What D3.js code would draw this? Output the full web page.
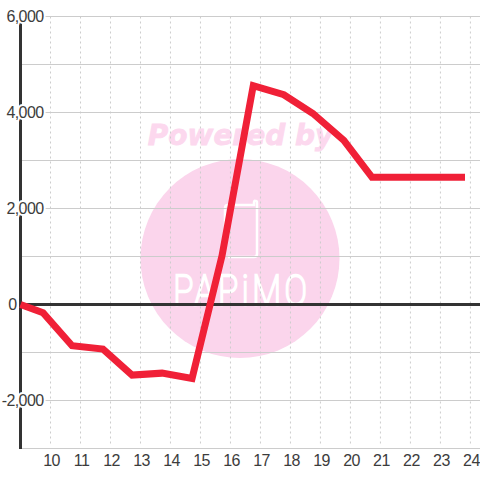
<!DOCTYPE html>
<html>
<head>
<meta charset="utf-8">
<script src="https://cdn.jsdelivr.net/npm/d3@7"></script>
<style>
html, body { margin: 0; padding: 0; background: #fff; }
svg { display: block; }
.tick-label text { font-family: "Liberation Sans", sans-serif; font-size: 16px; letter-spacing: -0.6px; fill: #3c3c3c; }
</style>
</head>
<body>
<div id="plot-area"></div>
<script>
// values
const hours = [9, 9.75, 10.72, 11.75, 12.72, 13.72, 14.72, 15.72, 16.76, 17.78, 18.75, 19.78, 20.72, 21.72, 22.72, 23.82]
const balance = [0, -170, -860, -930, -1470, -1430, -1540, 1020, 4560, 4370, 3980, 3420, 2650, 2650, 2650, 2650]

const xTicks = [10, 11, 12, 13, 14, 15, 16, 17, 18, 19, 20, 21, 22, 23, 24]
const yMajorTicks = [6000, 4000, 2000, 0, -2000]
const yMinorTicks = [5000, 3000, 1000, -1000, -3000]

const width = 480
const height = 480

const plotSVG = d3.select('#plot-area').append('svg')
    .attr('width', width)
    .attr('height', height)

const xScale = d3.scaleLinear().domain([9, 24.32]).range([20.5, 480])
const yScale = d3.scaleLinear().domain([6000, -3000]).range([16.5, 448.5])

// watermark sits under the grid
const mark = plotSVG.append('g')

mark.append('circle')
    .attr('cx', 240)
    .attr('cy', 258.5)
    .attr('r', 99.5)
    .attr('fill', '#fbd5ec')

mark.append('text')
    .attr('x', 240.5)
    .attr('y', 145)
    .attr('text-anchor', 'middle')
    .attr('font-family', 'DejaVu Sans')
    .attr('font-weight', 'bold')
    .attr('font-style', 'italic')
    .attr('font-size', 28)
    .attr('fill', '#fcd8ee')
    .attr('stroke', '#fcd8ee')
    .attr('stroke-width', 0.8)
    .text('Powered by')

mark.append('path')
    .attr('d', 'M225,240V208Q225,205 228,205H254V202Q254,200 256,201Q257,201 257,203V254Q257,257 254,257H228')
    .attr('fill', 'none')
    .attr('stroke', '#fff')
    .attr('stroke-width', 2.5)

mark.append('text')
    .attr('transform', 'translate(240, 305) scale(0.8, 1)')
    .attr('text-anchor', 'middle')
    .attr('textLength', 167)
    .attr('lengthAdjust', 'spacing')
    .attr('font-family', 'Roboto')
    .attr('font-weight', 100)
    .attr('font-size', 42)
    .attr('fill', '#fff')
    .attr('stroke', '#fff')
    .attr('stroke-width', 2.4)
    .text('PAPiMO')

// grid
plotSVG.append('g')
    .selectAll('line')
    .data(yMajorTicks.concat(yMinorTicks).filter(d => d != 0))
    .enter().append('line')
    .attr('x1', 20)
    .attr('x2', width)
    .attr('y1', d => yScale(d))
    .attr('y2', d => yScale(d))
    .attr('stroke', '#ccc')

plotSVG.append('g')
    .selectAll('line')
    .data(xTicks)
    .enter().append('line')
    .attr('x1', d => xScale(d))
    .attr('x2', d => xScale(d))
    .attr('y1', yScale(6000))
    .attr('y2', yScale(-3000) - 2)
    .attr('stroke', '#ccc')
    .attr('stroke-dasharray', '2,3')

// axis lines
plotSVG.append('line')
    .attr('x1', xScale(9))
    .attr('x2', xScale(9))
    .attr('y1', 16)
    .attr('y2', 449)
    .attr('stroke', '#333')
    .attr('stroke-width', 3)

plotSVG.append('line')
    .attr('x1', 19)
    .attr('x2', width)
    .attr('y1', yScale(0))
    .attr('y2', yScale(0))
    .attr('stroke', '#333')
    .attr('stroke-width', 3)

// tick labels, with a white halo that cuts the lines behind them
const commaFormat = d3.formatLocale({decimal: '.', thousands: ',', grouping: [3], currency: ['', ''], minus: '-'}).format(',')

const yAxis = d3.axisLeft(yScale)
    .tickValues(yMajorTicks)
    .tickSize(0)
    .tickPadding(0)
    .tickFormat(commaFormat)

plotSVG.append('g')
    .attr('class', 'tick-label')
    .attr('transform', 'translate(43.5, 0)')
    .call(yAxis)
    .call(g => g.select('.domain').remove())
    .selectAll('text')
    .attr('x', d => d == 0 ? -27 : 0) // the zero label stays left of the axis
    .attr('stroke', '#fff')
    .attr('stroke-width', 4)
    .attr('paint-order', 'stroke')

const xAxis = d3.axisBottom(xScale)
    .tickValues(xTicks)
    .tickSize(0)
    .tickPadding(0)
    .tickFormat(d3.format('d'))

plotSVG.append('g')
    .attr('class', 'tick-label')
    .attr('transform', 'translate(0.5, 455)')
    .call(xAxis)
    .call(g => g.select('.domain').remove())

const line = d3.line()
    .x(d => xScale(d[0]))
    .y(d => yScale(d[1]))

plotSVG.append('path')
    .datum(d3.zip(hours, balance))
    .attr('d', line)
    .attr('fill', 'none')
    .attr('stroke', '#f02037')
    .attr('stroke-width', 7)
    .attr('stroke-linejoin', 'miter')
</script>
</body>
</html>
